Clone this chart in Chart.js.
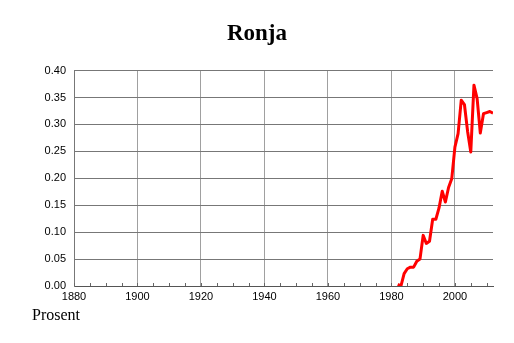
<!DOCTYPE html>
<html>
<head>
<meta charset="utf-8">
<script src="https://cdn.jsdelivr.net/npm/chart.js@4"></script>
<style>
  body { margin: 0; background: #fff; }
  #wrap { position: relative; width: 514px; height: 343px; }
  #unit { position: absolute; left: 32px; top: 306px; font: 16px "Liberation Serif", serif; color: #000; }
</style>
</head>
<body>
<div id="wrap">
  <canvas id="canvas" width="514" height="343"></canvas>
  <div id="unit">Prosent</div>
</div>
<script>
"use strict";
var years = [1982, 1983, 1984, 1985, 1986, 1987, 1988, 1989, 1990, 1991,
  1992, 1993, 1994, 1995, 1996, 1997, 1998, 1999, 2000, 2001,
  2002, 2003, 2004, 2005, 2006, 2007, 2008, 2009, 2010, 2011, 2012];
var percent = [0.003, 0.000, 0.023, 0.032, 0.035, 0.035, 0.046, 0.050, 0.094, 0.079,
  0.083, 0.124, 0.124, 0.145, 0.176, 0.156, 0.183, 0.199, 0.258, 0.283,
  0.345, 0.337, 0.287, 0.249, 0.373, 0.348, 0.284, 0.320, 0.322, 0.324, 0.321];
var name = "Ronja";

var points = years.map(function(y, i){ return {x: y, y: percent[i]}; });

// small 5-year ticks sitting on the x axis, inside the plot
var minorTicks = {
  id: 'minorTicks',
  afterDraw: function(chart){
    var sx = chart.scales.x, a = chart.chartArea, ctx = chart.ctx;
    ctx.save();
    ctx.strokeStyle = '#666';
    ctx.lineWidth = 1;
    for (var v = sx.min; v <= sx.max; v += 5) {
      var px = Math.round(sx.getPixelForValue(v)) + 0.5;
      ctx.beginPath();
      ctx.moveTo(px, a.bottom);
      ctx.lineTo(px, a.bottom - 3);
      ctx.stroke();
    }
    ctx.restore();
  }
};

new Chart(document.getElementById('canvas'), {
  type: 'line',
  data: {
    datasets: [{
      data: points,
      borderColor: '#ff0000',
      borderWidth: 3,
      borderJoinStyle: 'round',
      pointRadius: 0,
      tension: 0,
      fill: false
    }]
  },
  options: {
    responsive: false,
    animation: false,
    layout: { padding: { left: 21, right: 21, top: 0, bottom: 37 } },
    plugins: {
      legend: { display: false },
      tooltip: { enabled: false },
      title: {
        display: true,
        text: name,
        color: '#000',
        font: { family: '"Liberation Serif", serif', size: 23, weight: 'bold' },
        padding: { top: 20, bottom: 23 }
      }
    },
    scales: {
      x: {
        type: 'linear',
        min: 1880,
        max: 2012,
        afterFit: function(s){ s.height = 20; },
        ticks: {
          stepSize: 20,
          includeBounds: false,
          color: '#000',
          padding: 4,
          maxRotation: 0,
          font: { family: '"Liberation Sans", sans-serif', size: 11 },
          callback: function(v){ return String(v); }
        },
        grid: { color: '#a0a0a0', drawTicks: false },
        border: { color: '#555' }
      },
      y: {
        min: 0,
        max: 0.4,
        afterFit: function(s){ s.width = 53; },
        ticks: {
          stepSize: 0.05,
          color: '#000',
          padding: 8,
          font: { family: '"Liberation Sans", sans-serif', size: 11 },
          callback: function(v){ return v.toFixed(2); }
        },
        grid: { color: '#777', drawTicks: false },
        border: { color: '#777' }
      }
    }
  },
  plugins: [minorTicks]
});
</script>
</body>
</html>
